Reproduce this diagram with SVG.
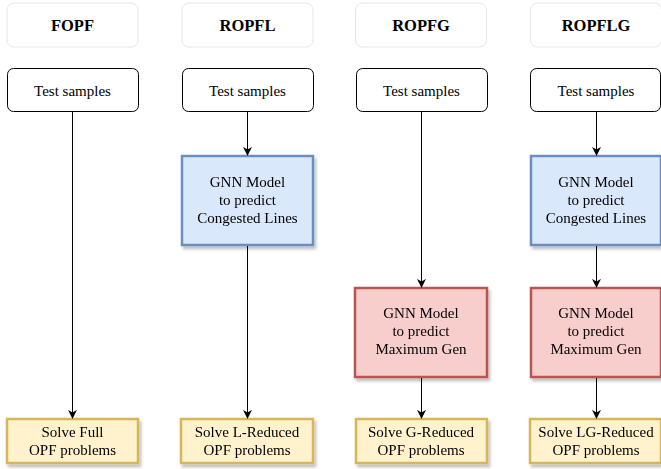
<svg xmlns="http://www.w3.org/2000/svg" width="661" height="469" viewBox="0 0 661 469">
<defs>
<marker id="arr" viewBox="0 0 10 10" refX="9" refY="5" markerWidth="9" markerHeight="9" markerUnits="userSpaceOnUse" orient="auto">
<path d="M0,0 L10,5 L0,10 L3,5 Z" fill="#000"/>
</marker>
<filter id="sh" x="-10%" y="-10%" width="130%" height="130%">
<feDropShadow dx="2" dy="3" stdDeviation="1.5" flood-color="#000" flood-opacity="0.25"/>
</filter>
<style>
.title rect{fill:#fff;stroke:#e6e6e6;stroke-width:1}
.title text{font-family:"Liberation Serif","Times New Roman",serif;font-weight:bold;font-size:16.5px;fill:#000;text-anchor:middle}
.test rect{fill:#fff;stroke:#000;stroke-width:1}
.lbl{font-family:"Liberation Serif","Times New Roman",serif;font-size:15px;fill:#000;text-anchor:middle}
.blue rect{fill:#dae8fc;stroke:#6c8ebf;stroke-width:2.5}
.red rect{fill:#f8cecc;stroke:#b85450;stroke-width:2.5}
.yel rect{fill:#fff2cc;stroke:#d6b656;stroke-width:2.5}
.conn line{stroke:#000;stroke-width:1;marker-end:url(#arr)}
</style>
</defs>
<rect width="661" height="469" fill="#fff"/>

<g id="t-fopf" class="title"><rect x="7" y="3" width="131" height="44" rx="7"/><text x="72.5" y="31">FOPF</text></g>
<g id="t-ropfl" class="title"><rect x="182" y="3" width="131" height="44" rx="7"/><text x="247.5" y="31">ROPFL</text></g>
<g id="t-ropfg" class="title"><rect x="355.5" y="3" width="131" height="44" rx="7"/><text x="421" y="31">ROPFG</text></g>
<g id="t-ropflg" class="title"><rect x="530.5" y="3" width="131" height="44" rx="7"/><text x="596" y="31">ROPFLG</text></g>

<g id="ts1" class="test"><rect x="7.5" y="68.5" width="131" height="43" rx="6"/><text class="lbl" x="72.5" y="96">Test samples</text></g>
<g id="ts2" class="test"><rect x="182.5" y="68.5" width="131" height="43" rx="6"/><text class="lbl" x="247.5" y="96">Test samples</text></g>
<g id="ts3" class="test"><rect x="356.5" y="68.5" width="131" height="43" rx="6"/><text class="lbl" x="421.5" y="96">Test samples</text></g>
<g id="ts4" class="test"><rect x="530.5" y="68.5" width="130" height="43" rx="6"/><text class="lbl" x="596" y="96">Test samples</text></g>

<g id="gl2" class="blue" filter="url(#sh)"><rect x="182" y="156" width="131" height="89"/>
<text class="lbl" x="247.5" y="187">GNN Model</text><text class="lbl" x="247.5" y="205">to predict</text><text class="lbl" x="247.5" y="223">Congested Lines</text></g>
<g id="gl4" class="blue" filter="url(#sh)"><rect x="531" y="156" width="130" height="89"/>
<text class="lbl" x="596" y="187">GNN Model</text><text class="lbl" x="596" y="205">to predict</text><text class="lbl" x="596" y="223">Congested Lines</text></g>

<g id="gg3" class="red" filter="url(#sh)"><rect x="355" y="288" width="132" height="89"/>
<text class="lbl" x="421" y="318">GNN Model</text><text class="lbl" x="421" y="336">to predict</text><text class="lbl" x="421" y="354">Maximum Gen</text></g>
<g id="gg4" class="red" filter="url(#sh)"><rect x="531" y="288" width="130" height="89"/>
<text class="lbl" x="596" y="318">GNN Model</text><text class="lbl" x="596" y="336">to predict</text><text class="lbl" x="596" y="354">Maximum Gen</text></g>

<g id="s1" class="yel" filter="url(#sh)"><rect x="7" y="419" width="131" height="44"/>
<text class="lbl" x="72.5" y="437">Solve Full</text><text class="lbl" x="72.5" y="455">OPF problems</text></g>
<g id="s2" class="yel" filter="url(#sh)"><rect x="181" y="419" width="132" height="44"/>
<text class="lbl" x="247" y="437">Solve L-Reduced</text><text class="lbl" x="247" y="455">OPF problems</text></g>
<g id="s3" class="yel" filter="url(#sh)"><rect x="356" y="419" width="131" height="44"/>
<text class="lbl" x="421" y="437">Solve G-Reduced</text><text class="lbl" x="421" y="455">OPF problems</text></g>
<g id="s4" class="yel" filter="url(#sh)"><rect x="530" y="419" width="131" height="44"/>
<text class="lbl" x="596" y="437">Solve LG-Reduced</text><text class="lbl" x="596" y="455">OPF problems</text></g>

<g id="connectors" class="conn">
<line x1="72.5" y1="112" x2="72.5" y2="418"/>
<line x1="247.5" y1="112" x2="247.5" y2="155"/>
<line x1="247.5" y1="246" x2="247.5" y2="418"/>
<line x1="421.5" y1="112" x2="421.5" y2="287"/>
<line x1="421.5" y1="378" x2="421.5" y2="418"/>
<line x1="596.5" y1="112" x2="596.5" y2="155"/>
<line x1="596.5" y1="246" x2="596.5" y2="287"/>
<line x1="596.5" y1="378" x2="596.5" y2="418"/>
</g>
</svg>
